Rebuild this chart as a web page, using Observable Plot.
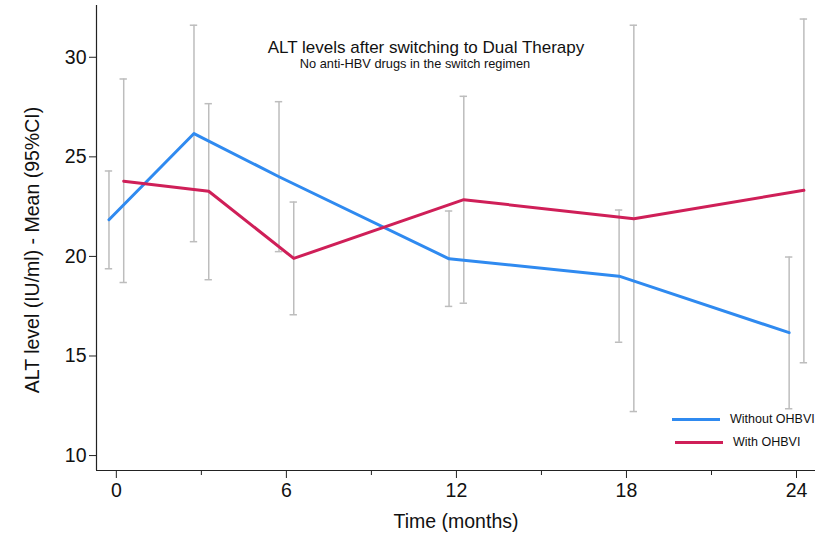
<!DOCTYPE html>
<html>
<head>
<meta charset="utf-8">
<script src="https://cdn.jsdelivr.net/npm/d3@7"></script>
<script src="https://cdn.jsdelivr.net/npm/@observablehq/plot@0.6"></script>
<style>
  html, body { margin: 0; padding: 0; background: #fff; }
  #wrap { position: relative; width: 826px; height: 535px; font-family: "Liberation Sans", Arial, Helvetica, sans-serif; }
  .leg { position: absolute; display: flex; align-items: center; font-size: 12.5px; color: #111; white-space: nowrap; }
  .leg span.sw { display: inline-block; width: 48px; height: 3px; margin-right: 10px; }
</style>
</head>
<body>
<div id="wrap"></div>
<script>
// ---- data ----
const months = [0, 3, 6, 12, 18, 24];
const groups = ["Without OHBVI", "With OHBVI"];
const withoutMean = [21.84, 26.17, 24.0, 19.88, 19.01, 16.17];
const withoutLow  = [19.38, 20.74, 20.24, 17.49, 15.69, 12.35];
const withoutHigh = [24.29, 31.61, 27.77, 22.28, 22.33, 19.97];
const withMean = [23.78, 23.27, 19.90, 22.85, 21.89, 23.32];
const withLow  = [18.69, 18.83, 17.07, 17.65, 12.21, 14.66];
const withHigh = [28.91, 27.67, 22.73, 28.04, 31.61, 31.92];
const xTicks = [0, 6, 12, 18, 24];
const xMinorTicks = [3, 9, 15, 21];
const yTicks = [10, 15, 20, 25, 30];
const title = "ALT levels after switching to Dual Therapy";
const subtitle = "No anti-HBV drugs in the switch regimen";
const xLabel = "Time (months)";
const yLabel = "ALT level (IU/ml) - Mean (95%CI)";

const colors = {"Without OHBVI": "#2f8af0", "With OHBVI": "#cf1f58"};
const offset = {"Without OHBVI": -0.26, "With OHBVI": 0.26};
const xDomain = [-0.70, 24.67];
const yDomain = [9.25, 32.6];

const series = [
  {group: groups[0], mean: withoutMean, low: withoutLow, high: withoutHigh},
  {group: groups[1], mean: withMean, low: withLow, high: withHigh}
];
const rows = series.flatMap(s => months.map((m, i) => ({
  group: s.group, month: m, x: m + offset[s.group],
  mean: s.mean[i], low: s.low[i], high: s.high[i]
})));

const ciColor = "#bdbdbd";
const capHalf = 0.13;

const chart = Plot.plot({
  width: 826,
  height: 535,
  marginLeft: 96,
  marginRight: 11,
  marginTop: 5,
  marginBottom: 65,
  style: {fontFamily: '"Liberation Sans", Arial, Helvetica, sans-serif', background: "#fff", color: "#111"},
  x: {domain: xDomain},
  y: {domain: yDomain},
  marks: [
    Plot.ruleX(rows, {x: "x", y1: "low", y2: "high", stroke: ciColor, strokeWidth: 1.5}),
    Plot.ruleY(rows, {y: "low", x1: d => d.x - capHalf, x2: d => d.x + capHalf, stroke: ciColor, strokeWidth: 1.5}),
    Plot.ruleY(rows, {y: "high", x1: d => d.x - capHalf, x2: d => d.x + capHalf, stroke: ciColor, strokeWidth: 1.5}),
    Plot.line(rows, {x: "x", y: "mean", z: "group", stroke: d => colors[d.group], strokeWidth: 3}),
    Plot.axisX({ticks: xTicks, tickSize: 8, tickPadding: 5, fontSize: 19.5, label: null, stroke: "#222"}),
    Plot.axisX({ticks: xMinorTicks, tickSize: 5, text: null, label: null, stroke: "#222"}),
    Plot.axisY({ticks: yTicks, tickSize: 7, tickPadding: 3, fontSize: 19.5, label: null, stroke: "#222"}),
    Plot.ruleX([xDomain[0]], {stroke: "#222", strokeWidth: 1.2}),
    Plot.ruleY([yDomain[0]], {stroke: "#222", strokeWidth: 1.2}),
    Plot.text([title], {frameAnchor: "top", lineAnchor: "middle", dx: -30, dy: 42, fontSize: 17, fill: "#111"}),
    Plot.text([subtitle], {frameAnchor: "top", lineAnchor: "middle", dx: -41, dy: 58, fontSize: 12.8, fill: "#111"}),
    Plot.text([xLabel], {frameAnchor: "bottom", lineAnchor: "middle", dy: 51, fontSize: 19.5, fill: "#111"}),
    Plot.text([yLabel], {frameAnchor: "left", textAnchor: "middle", lineAnchor: "middle", rotate: -90, dx: -64, dy: 12, fontSize: 19.5, fill: "#111"})
  ]
});

const wrap = document.getElementById("wrap");
wrap.appendChild(chart);

// legend overlay
const legendPos = [{left: 672, top: 409}, {left: 675, top: 432}];
groups.forEach((g, i) => {
  const d = document.createElement("div");
  d.className = "leg";
  d.style.left = legendPos[i].left + "px";
  d.style.top = legendPos[i].top + "px";
  d.style.height = "20px";
  const sw = document.createElement("span");
  sw.className = "sw";
  sw.style.background = colors[g];
  const t = document.createElement("span");
  t.textContent = g;
  d.appendChild(sw);
  d.appendChild(t);
  wrap.appendChild(d);
});
</script>
</body>
</html>
